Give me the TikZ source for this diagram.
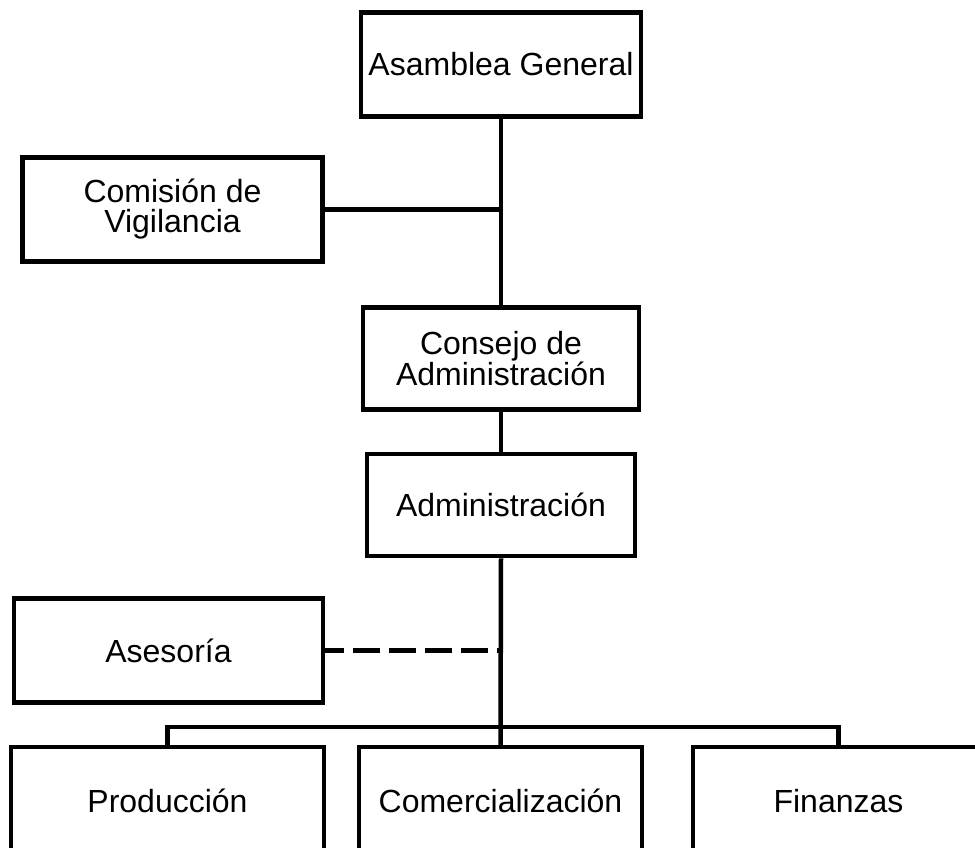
\documentclass[tikz,border=0pt]{standalone}
\usepackage{fontspec}
\setmainfont{Liberation Sans}
\begin{document}
\begin{tikzpicture}[x=1pt,y=-1pt,
  box/.style={draw=black, line width=4.5pt, rectangle, align=center, inner sep=0pt,
    font=\fontsize{32}{30}\selectfont},
  link/.style={line width=4.5pt},
  dashlink/.style={line width=4.5pt, dash pattern=on 27pt off 9pt, dash phase=8pt}]
\useasboundingbox (0,0) rectangle (975,847);
\node[box, minimum width=280pt, minimum height=104pt] (asam) at (501,64.5) {Asamblea General};
\node[box, minimum width=300pt, minimum height=104pt] (comi) at (172.5,209.5) {Comisión de\\Vigilancia};
\node[box, minimum width=276pt, minimum height=102pt] (cons) at (501,358.5) {Consejo de\\Administración};
\node[box, minimum width=268pt, minimum height=102pt] (admi) at (501,505) {Administración};
\node[box, minimum width=309pt, minimum height=104pt] (ases) at (168.5,650.5) {Asesoría};
\node[box, minimum width=313pt, minimum height=108pt] (prod) at (167.5,801) {Producción};
\node[box, minimum width=283pt, minimum height=108pt] (come) at (500.5,801) {Comercialización};
\node[box, minimum width=291pt, minimum height=108pt] (fina) at (838.5,801) {Finanzas};
\coordinate (bus) at (500,727);
\draw[link] (asam.south) -- (cons.north);
\draw[link] (comi.east) -- (comi.east -| asam.south);
\draw[link] (cons.south) -- (admi.north);
\draw[link] (admi.south) -- (come.north);
\draw[dashlink] (ases.east) -- (ases.east -| admi.south);
\draw[link] (prod.north) -- (prod.north |- bus) -- (fina.north |- bus) -- (fina.north);
\end{tikzpicture}
\end{document}
